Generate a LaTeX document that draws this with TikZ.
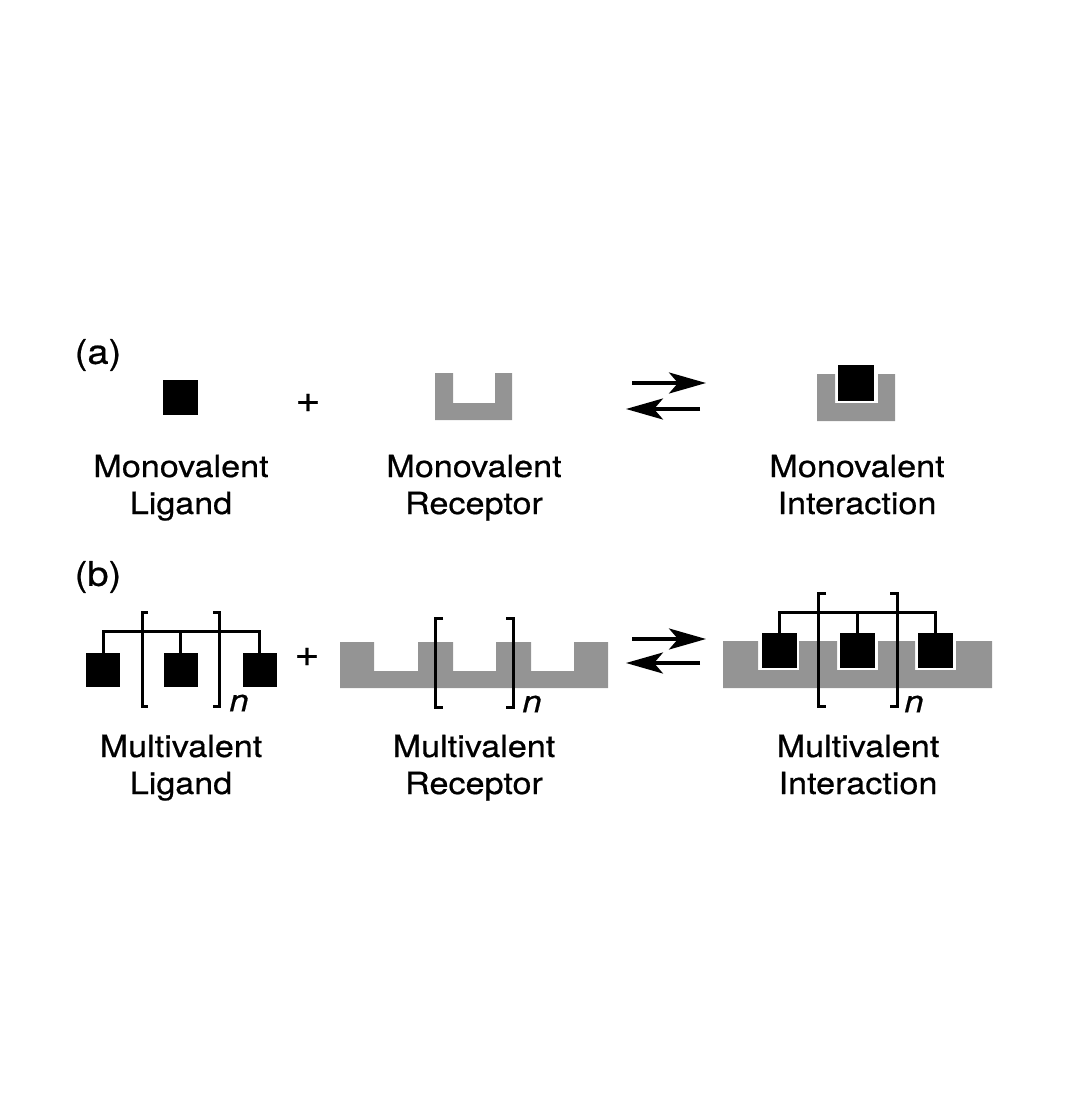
\documentclass[tikz,border=0pt]{standalone}
\usepackage{fontspec}
\setmainfont{TeX Gyre Heros}
\newfontfamily\lblfont[FakeStretch=1.12,FakeBold=0.6]{TeX Gyre Heros}
\usetikzlibrary{arrows.meta}
\definecolor{rgray}{gray}{0.58}
\begin{document}
\begin{tikzpicture}[x=1pt,y=-1pt,
  lig/.style={rectangle,fill=black,draw=none,minimum size=35pt,inner sep=0pt,outer sep=0pt},
  rec/.style={fill=rgray,draw=none},
  link/.style={line width=3pt},
  brk/.style={line width=3pt},
  lbl/.style={font=\lblfont\fontsize{30.5}{37}\selectfont,align=center,inner sep=0pt},
  plus/.style={font=\lblfont\fontsize{38}{38}\selectfont,inner sep=0pt},
  part/.style={font=\lblfont\fontsize{34}{34}\selectfont,inner sep=0pt},
  nlab/.style={font=\lblfont\fontsize{31}{31}\selectfont\itshape,inner sep=0pt},
  eq/.style={line width=3.2pt,-{Stealth[length=37pt,width=21pt,inset=9pt]}},
]
\useasboundingbox (0,0) rectangle (1073,1097);

% ---------- (a) ----------
\node[part] (la) at (98,355) {(a)};
\node[lig] (a1) at (180.5,397.5) {};
\node[plus] (pa) at (308,403) {+};
\fill[rec] (435,373) -| (453,403) -| (495,373) -| (512,420) -- (435,420) -- cycle;
\coordinate (af1) at (632,383);
\coordinate (af2) at (706,383);
\coordinate (ar1) at (700,409);
\coordinate (ar2) at (626,409);
\draw[eq] (af1) -- (af2);
\draw[eq] (ar1) -- (ar2);
\fill[rec] (817,374) -| (835,403) -| (878,374) -| (895,421) -- (817,421) -- cycle;
\node[lig,minimum size=36pt] (ac) at (856,383) {};

\node[lbl,anchor=base] (ta1) at (181,514) {Monovalent\\Ligand};
\node[lbl,anchor=base] (ta2) at (474,514) {Monovalent\\Receptor};
\node[lbl,anchor=base] (ta3) at (857,514) {Monovalent\\Interaction};

% ---------- (b) ----------
\node[part] (lb) at (98,577) {(b)};
% ligand
\node[lig,minimum size=34pt] (L1) at (103,670) {};
\node[lig,minimum size=34pt] (L2) at (180.5,670) {};
\node[lig,minimum size=34pt] (L3) at (259.5,670) {};
\coordinate (lbar) at (0,631);
\draw[link] (L1.north) |- (L3.north |- lbar) -- (L3.north);
\draw[link] (L2.north) -- (L2.north |- lbar);
\draw[brk] (148,612) -- (142,612) -- (142,706) -- (148,706);
\draw[brk] (213,612) -- (219,612) -- (219,706) -- (213,706);
\node[nlab] (n1) at (239,703) {n};
\node[plus] (pb) at (307,657) {+};
% receptor
\fill[rec] (340,642) -| (374,671) -| (418,642) -| (453,671) -| (496,642) -| (531,671) -| (574,642) -| (608,688) -- (340,688) -- cycle;
\draw[brk] (443,618) -- (435,618) -- (435,707) -- (443,707);
\draw[brk] (506,618) -- (513,618) -- (513,707) -- (506,707);
\node[nlab] (n2) at (532,704) {n};
% arrows
\coordinate (bf1) at (632,639);
\coordinate (bf2) at (706,639);
\coordinate (br1) at (700,663);
\coordinate (br2) at (626,663);
\draw[eq] (bf1) -- (bf2);
\draw[eq] (br1) -- (br2);
% interaction
\fill[rec] (723,641) -| (758,670) -| (799,641) -| (837,670) -| (878,641) -| (915,670) -| (956,641) -| (992,688) -- (723,688) -- cycle;
\node[lig] (C1) at (779.5,650) {};
\node[lig] (C2) at (857.5,650) {};
\node[lig] (C3) at (935.5,650) {};
\coordinate (cbar) at (0,612);
\draw[link] (C1.north) |- (C3.north |- cbar) -- (C3.north);
\draw[link] (C2.north) -- (C2.north |- cbar);
\draw[brk] (826,593) -- (818,593) -- (818,706) -- (826,706);
\draw[brk] (890,593) -- (897,593) -- (897,706) -- (890,706);
\node[nlab] (n3) at (914,704) {n};

\node[lbl,anchor=base] (tb1) at (181,794) {Multivalent\\Ligand};
\node[lbl,anchor=base] (tb2) at (474,794) {Multivalent\\Receptor};
\node[lbl,anchor=base] (tb3) at (858,794) {Multivalent\\Interaction};
\end{tikzpicture}
\end{document}
